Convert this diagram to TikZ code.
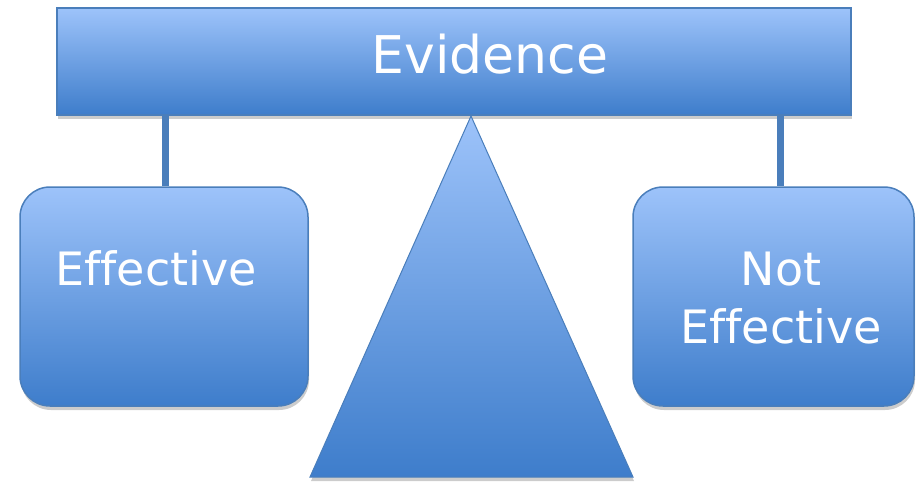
\documentclass[tikz,border=0pt]{standalone}
\usepackage{xcolor}
\usepackage{fontspec}
\setmainfont{DejaVu Sans}[Ligatures = NoCommon]
\usepackage{tikz}
\usetikzlibrary{shapes, shadows}
\definecolor{panetop}{HTML}{9DC3FA}
\definecolor{panebot}{HTML}{3E7DCB}
\definecolor{paneedge}{HTML}{4A7EBB}

\begin{document}
\begin{tikzpicture}[x = 1pt, y = -1pt]
			\tikzstyle{every node} = [text = white, inner sep = 0pt]
			\tikzstyle{pane} = [draw = paneedge, line width = 1.5pt, top color = panetop, bottom color = panebot,
				drop shadow = {opacity = 0.4, shadow xshift = 1pt, shadow yshift = -4pt}]
			\tikzstyle{post} = [draw = paneedge, line width = 7pt]
			\tikzstyle{big} = [font = \fontsize{52}{60}\selectfont]
			\tikzstyle{small} = [font = \fontsize{46}{58}\selectfont]
				\path[use as bounding box] (0,0) rectangle (916,482);
				\node[pane, minimum width = 794pt, minimum height = 107pt] (bar) at (454,61.5) {};
				\node[pane, rounded corners = 30pt, minimum width = 288pt, minimum height = 219pt] (effbox) at (164,296.5) {};
				\node[pane, rounded corners = 30pt, minimum width = 281pt, minimum height = 219pt] (noteffbox) at (773.5,296.5) {};
				\path[draw, post] (bar.south -| 165,0) -- (effbox.north -| 165,0);
				\path[draw, post] (bar.south -| 780,0) -- (noteffbox.north -| 780,0);
				\coordinate (apex) at (471,116);
				\coordinate (foot1) at (633,477);
				\coordinate (foot2) at (310,477);
				\path[pane, line width = 1pt] (apex) -- (foot1) -- (foot2) -- cycle;
				\node[big, anchor = base] (evidence) at (490,73) {Evidence};
				\node[small, anchor = base] (effective) at (156,285) {Effective};
				\node[small, anchor = base, align = center] (noteffective) at (781,343) {Not\\Effective};
		\end{tikzpicture}
\end{document}
